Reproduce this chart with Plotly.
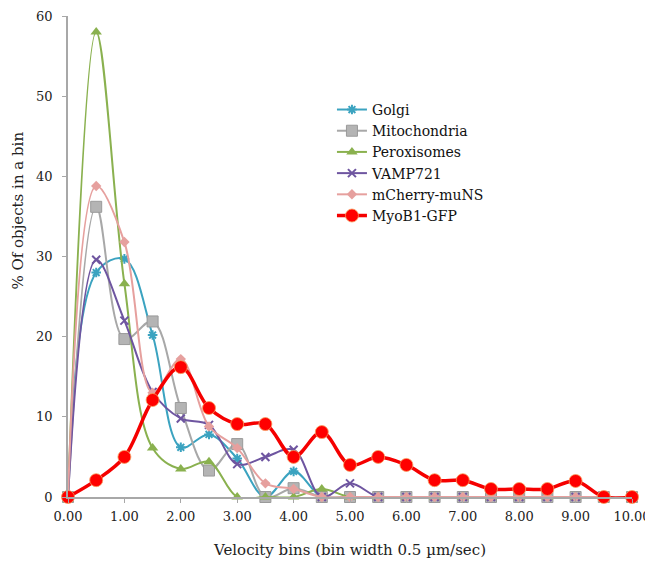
import plotly.graph_objects as go

bins = [0.0, 0.5, 1.0, 1.5, 2.0, 2.5, 3.0, 3.5, 4.0, 4.5, 5.0, 5.5, 6.0, 6.5, 7.0, 7.5, 8.0, 8.5, 9.0, 9.5, 10.0]

golgi = [0, 28.0, 29.7, 20.2, 6.2, 7.8, 4.8, 0, 3.2, 0, 0, 0, 0, 0, 0, 0, 0, 0, 0, 0, 0]
mitochondria = [0, 36.2, 19.7, 21.9, 11.1, 3.3, 6.6, 0, 1.1, 0, 0, 0, 0, 0, 0, 0, 0, 0, 0, 0, 0]
peroxisomes = [0, 58.0, 26.6, 6.1, 3.5, 4.4, 0, 0, 0, 1.0, 0, 0, 0, 0, 0, 0, 0, 0, 0, 0, 0]
vamp721 = [0, 29.6, 22.0, 13.1, 9.8, 9.0, 4.1, 5.0, 5.9, 0, 1.7, 0, 0, 0, 0, 0, 0, 0, 0, 0, 0]
mcherry = [0, 38.8, 31.8, 13.0, 17.2, 8.8, 6.1, 1.7, 1.0, 0, 0, 0, 0, 0, 0, 0, 0, 0, 0, 0, 0]
myob1 = [0, 2.1, 5.0, 12.1, 16.2, 11.1, 9.1, 9.1, 5.0, 8.1, 4.0, 5.0, 4.0, 2.1, 2.1, 1.0, 1.0, 1.0, 2.0, 0, 0]

x_ticks = [0, 1, 2, 3, 4, 5, 6, 7, 8, 9, 10]
x_ticklabels = ["0.00", "1.00", "2.00", "3.00", "4.00", "5.00", "6.00", "7.00", "8.00", "9.00", "10.00"]
y_ticks = [0, 10, 20, 30, 40, 50, 60]

FONT = "DejaVu Serif"

fig = go.Figure()

def add(name, y, color, symbol, size, width, mcolor=None, mline=None, mlw=0):
    fig.add_trace(go.Scatter(
        x=bins, y=y, name=name, mode="lines+markers",
        line=dict(color=color, width=width, shape="spline", smoothing=1.0),
        marker=dict(symbol=symbol, size=size, color=mcolor or color,
                    line=dict(color=mline or color, width=mlw)),
        cliponaxis=False,
    ))

add("Golgi", golgi, "#3BA3C0", "asterisk-open", 8, 2, mlw=2)
add("Mitochondria", mitochondria, "#A8A8A8", "square", 11, 2, mcolor="#B4B4B4", mline="#9A9A9A", mlw=1)
add("Peroxisomes", peroxisomes, "#8AB14F", "triangle-up", 10, 2)
add("VAMP721", vamp721, "#6E55A0", "x-thin-open", 8, 2, mlw=2)
add("mCherry-muNS", mcherry, "#E6A09E", "diamond", 8, 2)
add("MyoB1-GFP", myob1, "#F50000", "circle", 13, 3.5, mcolor="#FF0000", mline="#F7A060", mlw=0.8)

fig.update_layout(
    width=645, height=554,
    margin=dict(l=60, r=21, t=8, b=65, autoexpand=False),
    paper_bgcolor="white", plot_bgcolor="white",
    font=dict(family=FONT, size=13, color="#222222"),
    showlegend=True,
    legend=dict(x=0.468, y=0.838, xanchor="left", yanchor="top",
                font=dict(family=FONT, size=14, color="#111111"),
                bgcolor="rgba(0,0,0,0)", tracegroupgap=0),
    xaxis=dict(range=[0, 10], tickvals=x_ticks, ticktext=x_ticklabels, automargin=False,
               showgrid=False, zeroline=False, showline=True, linecolor="#A8A8A8", linewidth=1.5,
               ticks="outside", ticklen=4, tickcolor="#A8A8A8", ticklabeloverflow="allow",
               ticklabelstandoff=3,
               tickfont=dict(family=FONT, size=13),
               title=dict(text="Velocity bins (bin width 0.5 µm/sec)", font=dict(family=FONT, size=15), standoff=21)),
    yaxis=dict(range=[0, 60], tickvals=y_ticks, automargin=False,
               showgrid=False, zeroline=False, showline=True, linecolor="#A8A8A8", linewidth=1.5,
               ticks="outside", ticklen=4, tickcolor="#A8A8A8", ticklabeloverflow="allow",
               ticklabelstandoff=7,
               tickfont=dict(family=FONT, size=13)),
    annotations=[dict(text="% Of objects in a bin", textangle=-90, xref="paper", yref="paper",
                      x=-0.089, y=0.595, xanchor="center", yanchor="middle", showarrow=False,
                      font=dict(family=FONT, size=15, color="#222222"))],
)

fig.write_html("out.html")
